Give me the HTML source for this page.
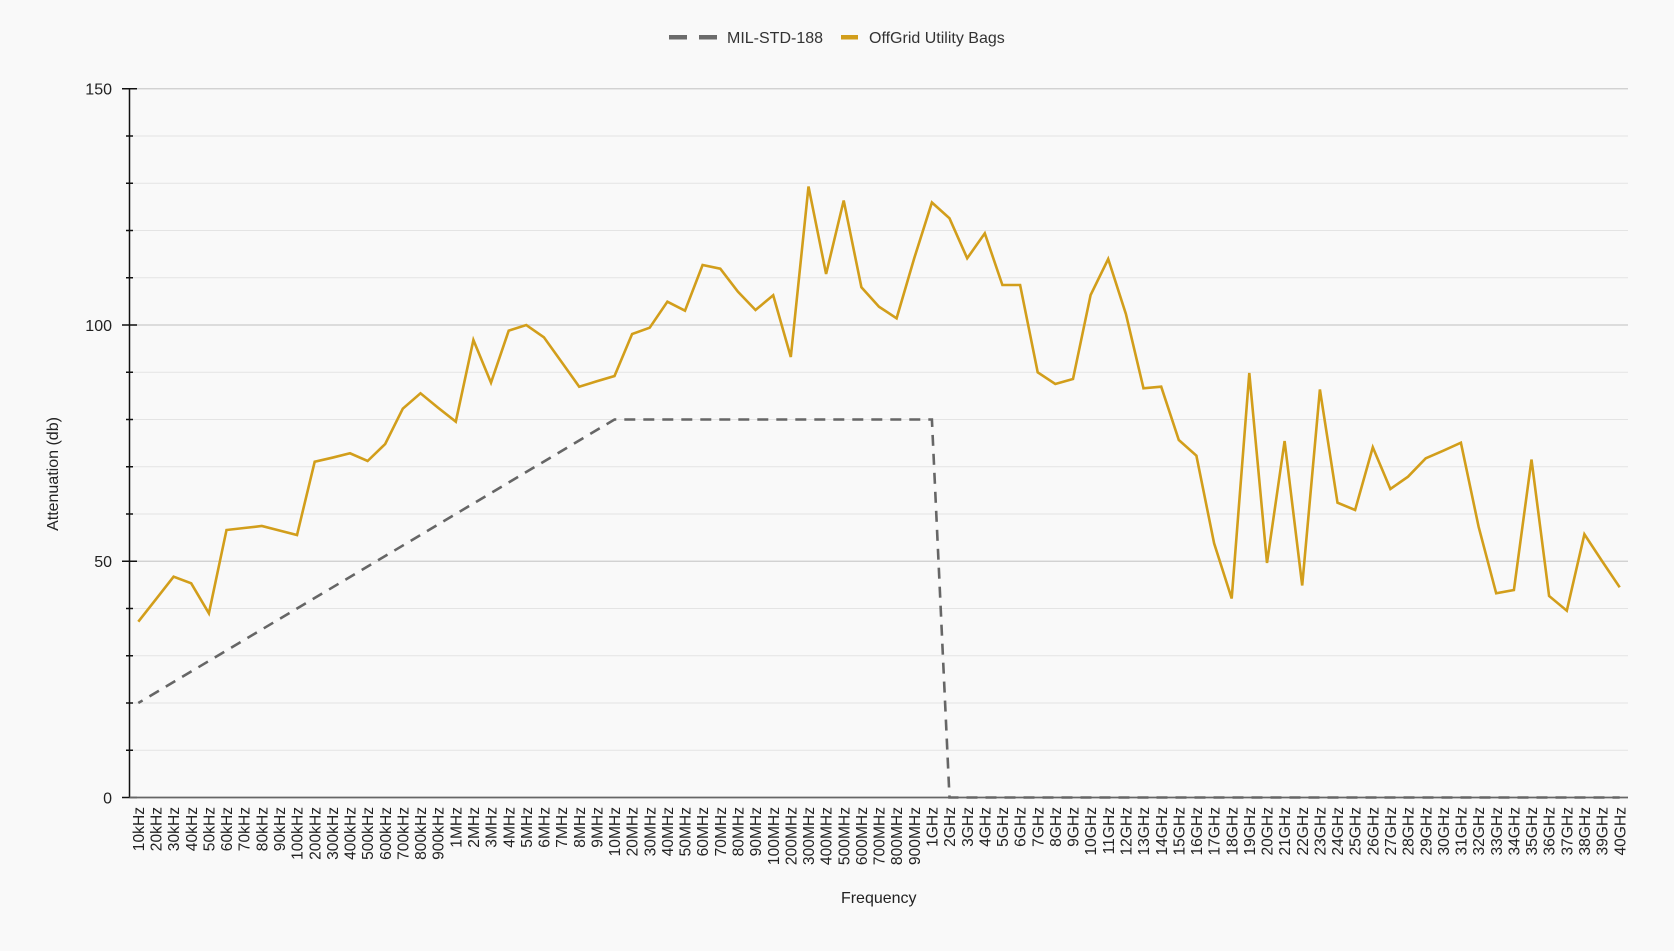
<!DOCTYPE html>
<html>
<head>
<meta charset="utf-8">
<style>
  html, body { margin:0; padding:0; background:#f9f9f9; }
  svg { display:block; font-family:"Liberation Sans", Arial, sans-serif; }
</style>
</head>
<body>
<svg width="1674" height="951" viewBox="0 0 1674 951" xmlns="http://www.w3.org/2000/svg">
  <rect x="0" y="0" width="1674" height="951" fill="#f9f9f9"/>

  <!-- legend -->
  <rect x="669" y="35" width="18" height="4.5" fill="#6b6b6b"/>
  <rect x="699" y="35" width="18" height="4.5" fill="#6b6b6b"/>
  <text x="727" y="43" font-size="16" fill="#333">MIL-STD-188</text>
  <rect x="841" y="35" width="17" height="4.5" fill="#d29e1b"/>
  <text x="869" y="43" font-size="16" fill="#333">OffGrid Utility Bags</text>

  <!-- gridlines -->
  <g stroke="#e4e4e4" stroke-width="1">
    <line x1="130" x2="1628" y1="750.25" y2="750.25"/>
    <line x1="130" x2="1628" y1="703" y2="703"/>
    <line x1="130" x2="1628" y1="655.75" y2="655.75"/>
    <line x1="130" x2="1628" y1="608.5" y2="608.5"/>
    <line x1="130" x2="1628" y1="514" y2="514"/>
    <line x1="130" x2="1628" y1="466.75" y2="466.75"/>
    <line x1="130" x2="1628" y1="419.5" y2="419.5"/>
    <line x1="130" x2="1628" y1="372.25" y2="372.25"/>
    <line x1="130" x2="1628" y1="277.75" y2="277.75"/>
    <line x1="130" x2="1628" y1="230.5" y2="230.5"/>
    <line x1="130" x2="1628" y1="183.25" y2="183.25"/>
    <line x1="130" x2="1628" y1="136" y2="136"/>
  </g>
  <g stroke="#cccccc" stroke-width="1.2">
    <line x1="130" x2="1628" y1="561.25" y2="561.25"/>
    <line x1="130" x2="1628" y1="325" y2="325"/>
    <line x1="130" x2="1628" y1="88.75" y2="88.75"/>
  </g>

  <!-- y axis -->
  <line x1="129.5" x2="129.5" y1="88" y2="798" stroke="#111" stroke-width="1.5"/>
  <g stroke="#111" stroke-width="1.5">
    <line x1="122" x2="137" y1="797.5" y2="797.5"/>
    <line x1="122" x2="137" y1="561.25" y2="561.25"/>
    <line x1="122" x2="137" y1="325" y2="325"/>
    <line x1="122" x2="137" y1="88.75" y2="88.75"/>
    <line x1="126" x2="133" y1="750.25" y2="750.25"/>
    <line x1="126" x2="133" y1="703" y2="703"/>
    <line x1="126" x2="133" y1="655.75" y2="655.75"/>
    <line x1="126" x2="133" y1="608.5" y2="608.5"/>
    <line x1="126" x2="133" y1="514" y2="514"/>
    <line x1="126" x2="133" y1="466.75" y2="466.75"/>
    <line x1="126" x2="133" y1="419.5" y2="419.5"/>
    <line x1="126" x2="133" y1="372.25" y2="372.25"/>
    <line x1="126" x2="133" y1="277.75" y2="277.75"/>
    <line x1="126" x2="133" y1="230.5" y2="230.5"/>
    <line x1="126" x2="133" y1="183.25" y2="183.25"/>
    <line x1="126" x2="133" y1="136" y2="136"/>
  </g>
  <g font-size="16" fill="#222" text-anchor="end">
    <text x="112" y="803.3">0</text>
    <text x="112" y="567">50</text>
    <text x="112" y="330.8">100</text>
    <text x="112" y="94.5">150</text>
  </g>
  <text transform="translate(58,474) rotate(-90)" font-size="16" fill="#222" text-anchor="middle">Attenuation (db)</text>

  <!-- x axis -->
  <line x1="129.5" x2="1628" y1="797.5" y2="797.5" stroke="#666" stroke-width="1.8"/>

  <!-- MIL-STD-188 dashed -->
  <polyline fill="none" stroke="#666" stroke-width="2.6" stroke-dasharray="11 8" stroke-dashoffset="6"
    points="138.3,703 614.5,419.5 931.9,419.5 949.5,797.5 1619.7,797.5"/>

  <!-- OffGrid Utility Bags -->
  <polyline fill="none" stroke="#d29e1b" stroke-width="2.6"
    points="138.3,621.7 156.0,599.2 173.6,576.7 191.2,583.3 208.9,613.3 226.5,530.0 244.1,528.0 261.8,526.0 279.4,530.5 297.0,535.0 314.7,461.7 332.3,457.7 350.0,453.3 367.6,461.0 385.2,444.0 402.8,408.7 420.5,393.3 438.1,407.7 455.8,421.7 473.4,340.0 491.0,382.7 508.7,330.7 526.3,325.0 543.9,337.3 561.6,362.0 579.2,386.7 596.8,381.3 614.5,376.0 632.1,334.0 649.7,327.7 667.4,301.7 685.0,310.7 702.6,265.0 720.3,268.7 737.9,291.7 755.5,310.0 773.2,295.3 790.8,357 808.5,186.5 826.1,274 843.7,200.5 861.4,287.3 879.0,306.7 896.6,318.3 914.3,258 931.9,202.5 949.5,218.3 967.2,258.3 984.8,233.3 1002.4,285 1020.1,285 1037.7,372.3 1055.3,384 1073.0,379 1090.6,295 1108.2,259 1125.9,314 1143.5,388.3 1161.2,386.7 1178.8,440 1196.4,455.7 1214.1,543.3 1231.7,598.5 1249.3,373 1267.0,563 1284.6,441 1302.2,585.5 1319.9,389.5 1337.5,502.7 1355.1,510 1372.8,447.3 1390.4,489 1408.0,476.7 1425.7,458.3 1443.3,450.7 1460.9,442.7 1478.6,526.7 1496.2,593.3 1513.9,590 1531.5,459.5 1549.1,596 1566.8,610.7 1584.4,534.3 1602.0,561 1619.7,587.3"/>

  <!-- x labels -->
  <g font-size="15.6" fill="#222" text-anchor="end">
    <text transform="translate(138.3,807) rotate(-90)" dy="0.36em">10kHz</text>
    <text transform="translate(156.0,807) rotate(-90)" dy="0.36em">20kHz</text>
    <text transform="translate(173.6,807) rotate(-90)" dy="0.36em">30kHz</text>
    <text transform="translate(191.2,807) rotate(-90)" dy="0.36em">40kHz</text>
    <text transform="translate(208.9,807) rotate(-90)" dy="0.36em">50kHz</text>
    <text transform="translate(226.5,807) rotate(-90)" dy="0.36em">60kHz</text>
    <text transform="translate(244.1,807) rotate(-90)" dy="0.36em">70kHz</text>
    <text transform="translate(261.8,807) rotate(-90)" dy="0.36em">80kHz</text>
    <text transform="translate(279.4,807) rotate(-90)" dy="0.36em">90kHz</text>
    <text transform="translate(297.0,807) rotate(-90)" dy="0.36em">100kHz</text>
    <text transform="translate(314.7,807) rotate(-90)" dy="0.36em">200kHz</text>
    <text transform="translate(332.3,807) rotate(-90)" dy="0.36em">300kHz</text>
    <text transform="translate(350.0,807) rotate(-90)" dy="0.36em">400kHz</text>
    <text transform="translate(367.6,807) rotate(-90)" dy="0.36em">500kHz</text>
    <text transform="translate(385.2,807) rotate(-90)" dy="0.36em">600kHz</text>
    <text transform="translate(402.8,807) rotate(-90)" dy="0.36em">700kHz</text>
    <text transform="translate(420.5,807) rotate(-90)" dy="0.36em">800kHz</text>
    <text transform="translate(438.1,807) rotate(-90)" dy="0.36em">900kHz</text>
    <text transform="translate(455.8,807) rotate(-90)" dy="0.36em">1MHz</text>
    <text transform="translate(473.4,807) rotate(-90)" dy="0.36em">2MHz</text>
    <text transform="translate(491.0,807) rotate(-90)" dy="0.36em">3MHz</text>
    <text transform="translate(508.7,807) rotate(-90)" dy="0.36em">4MHz</text>
    <text transform="translate(526.3,807) rotate(-90)" dy="0.36em">5MHz</text>
    <text transform="translate(543.9,807) rotate(-90)" dy="0.36em">6MHz</text>
    <text transform="translate(561.6,807) rotate(-90)" dy="0.36em">7MHz</text>
    <text transform="translate(579.2,807) rotate(-90)" dy="0.36em">8MHz</text>
    <text transform="translate(596.8,807) rotate(-90)" dy="0.36em">9MHz</text>
    <text transform="translate(614.5,807) rotate(-90)" dy="0.36em">10MHz</text>
    <text transform="translate(632.1,807) rotate(-90)" dy="0.36em">20MHz</text>
    <text transform="translate(649.7,807) rotate(-90)" dy="0.36em">30MHz</text>
    <text transform="translate(667.4,807) rotate(-90)" dy="0.36em">40MHz</text>
    <text transform="translate(685.0,807) rotate(-90)" dy="0.36em">50MHz</text>
    <text transform="translate(702.6,807) rotate(-90)" dy="0.36em">60MHz</text>
    <text transform="translate(720.3,807) rotate(-90)" dy="0.36em">70MHz</text>
    <text transform="translate(737.9,807) rotate(-90)" dy="0.36em">80MHz</text>
    <text transform="translate(755.5,807) rotate(-90)" dy="0.36em">90MHz</text>
    <text transform="translate(773.2,807) rotate(-90)" dy="0.36em">100MHz</text>
    <text transform="translate(790.8,807) rotate(-90)" dy="0.36em">200MHz</text>
    <text transform="translate(808.5,807) rotate(-90)" dy="0.36em">300MHz</text>
    <text transform="translate(826.1,807) rotate(-90)" dy="0.36em">400MHz</text>
    <text transform="translate(843.7,807) rotate(-90)" dy="0.36em">500MHz</text>
    <text transform="translate(861.4,807) rotate(-90)" dy="0.36em">600MHz</text>
    <text transform="translate(879.0,807) rotate(-90)" dy="0.36em">700MHz</text>
    <text transform="translate(896.6,807) rotate(-90)" dy="0.36em">800MHz</text>
    <text transform="translate(914.3,807) rotate(-90)" dy="0.36em">900MHz</text>
    <text transform="translate(931.9,807) rotate(-90)" dy="0.36em">1GHz</text>
    <text transform="translate(949.5,807) rotate(-90)" dy="0.36em">2GHz</text>
    <text transform="translate(967.2,807) rotate(-90)" dy="0.36em">3GHz</text>
    <text transform="translate(984.8,807) rotate(-90)" dy="0.36em">4GHz</text>
    <text transform="translate(1002.4,807) rotate(-90)" dy="0.36em">5GHz</text>
    <text transform="translate(1020.1,807) rotate(-90)" dy="0.36em">6GHz</text>
    <text transform="translate(1037.7,807) rotate(-90)" dy="0.36em">7GHz</text>
    <text transform="translate(1055.3,807) rotate(-90)" dy="0.36em">8GHz</text>
    <text transform="translate(1073.0,807) rotate(-90)" dy="0.36em">9GHz</text>
    <text transform="translate(1090.6,807) rotate(-90)" dy="0.36em">10GHz</text>
    <text transform="translate(1108.2,807) rotate(-90)" dy="0.36em">11GHz</text>
    <text transform="translate(1125.9,807) rotate(-90)" dy="0.36em">12GHz</text>
    <text transform="translate(1143.5,807) rotate(-90)" dy="0.36em">13GHz</text>
    <text transform="translate(1161.2,807) rotate(-90)" dy="0.36em">14GHz</text>
    <text transform="translate(1178.8,807) rotate(-90)" dy="0.36em">15GHz</text>
    <text transform="translate(1196.4,807) rotate(-90)" dy="0.36em">16GHz</text>
    <text transform="translate(1214.1,807) rotate(-90)" dy="0.36em">17GHz</text>
    <text transform="translate(1231.7,807) rotate(-90)" dy="0.36em">18GHz</text>
    <text transform="translate(1249.3,807) rotate(-90)" dy="0.36em">19GHz</text>
    <text transform="translate(1267.0,807) rotate(-90)" dy="0.36em">20GHz</text>
    <text transform="translate(1284.6,807) rotate(-90)" dy="0.36em">21GHz</text>
    <text transform="translate(1302.2,807) rotate(-90)" dy="0.36em">22GHz</text>
    <text transform="translate(1319.9,807) rotate(-90)" dy="0.36em">23GHz</text>
    <text transform="translate(1337.5,807) rotate(-90)" dy="0.36em">24GHz</text>
    <text transform="translate(1355.1,807) rotate(-90)" dy="0.36em">25GHz</text>
    <text transform="translate(1372.8,807) rotate(-90)" dy="0.36em">26GHz</text>
    <text transform="translate(1390.4,807) rotate(-90)" dy="0.36em">27GHz</text>
    <text transform="translate(1408.0,807) rotate(-90)" dy="0.36em">28GHz</text>
    <text transform="translate(1425.7,807) rotate(-90)" dy="0.36em">29GHz</text>
    <text transform="translate(1443.3,807) rotate(-90)" dy="0.36em">30GHz</text>
    <text transform="translate(1460.9,807) rotate(-90)" dy="0.36em">31GHz</text>
    <text transform="translate(1478.6,807) rotate(-90)" dy="0.36em">32GHz</text>
    <text transform="translate(1496.2,807) rotate(-90)" dy="0.36em">33GHz</text>
    <text transform="translate(1513.9,807) rotate(-90)" dy="0.36em">34GHz</text>
    <text transform="translate(1531.5,807) rotate(-90)" dy="0.36em">35GHz</text>
    <text transform="translate(1549.1,807) rotate(-90)" dy="0.36em">36GHz</text>
    <text transform="translate(1566.8,807) rotate(-90)" dy="0.36em">37GHz</text>
    <text transform="translate(1584.4,807) rotate(-90)" dy="0.36em">38GHz</text>
    <text transform="translate(1602.0,807) rotate(-90)" dy="0.36em">39GHz</text>
    <text transform="translate(1619.7,807) rotate(-90)" dy="0.36em">40GHz</text>
  </g>
  <text x="878.75" y="903" font-size="16" fill="#222" text-anchor="middle">Frequency</text>
</svg>
</body>
</html>
